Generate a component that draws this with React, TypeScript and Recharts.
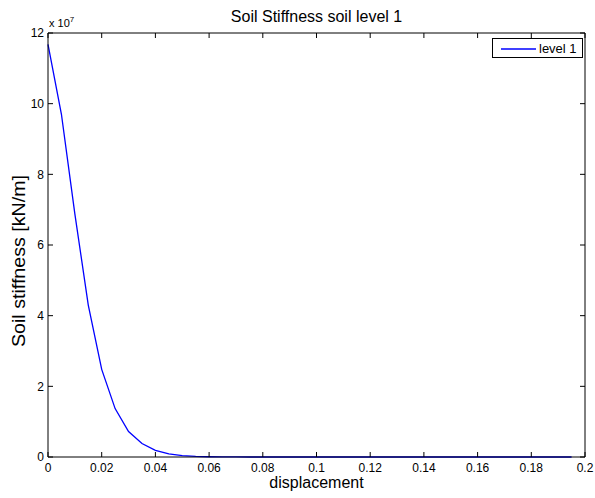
import React from 'react';
import { LineChart, Line, XAxis, YAxis, Label } from 'recharts';

const displacement = [
  0, 0.005, 0.01, 0.015, 0.02, 0.025, 0.03, 0.035, 0.04, 0.045,
  0.05, 0.055, 0.06, 0.065, 0.07, 0.075, 0.08, 0.085, 0.09, 0.095,
  0.1, 0.105, 0.11, 0.115, 0.12, 0.125, 0.13, 0.135, 0.14, 0.145,
  0.15, 0.155, 0.16, 0.165, 0.17, 0.175, 0.18, 0.185, 0.19, 0.195,
];
const stiffness = [
  116800000, 97000000, 68800000, 43000000, 24800000, 13700000, 7200000, 3800000, 1900000, 900000,
  400000, 170000, 70000, 30000, 12000, 5000, 2000, 800, 300, 120,
  50, 20, 8, 3, 1, 0.5, 0.2, 0.1, 0.05, 0.02,
  0.01, 0.005, 0.002, 0.001, 0.0005, 0.0002, 0.0001, 0.00005, 0.00002, 0.00001,
];
const xTicks = [0, 0.02, 0.04, 0.06, 0.08, 0.1, 0.12, 0.14, 0.16, 0.18, 0.2];
const yTicks = [0, 20000000, 40000000, 60000000, 80000000, 100000000, 120000000];
const seriesName = 'level 1';
const titleText = 'Soil Stiffness soil level 1';
const xLabelText = 'displacement';
const yLabelText = 'Soil stiffness [kN/m]';
const exponentBase = 'x 10';
const exponentPower = '7';

const data = displacement.map((d, i) => ({ x: d, y: stiffness[i] }));

const FONT = '"Liberation Sans", Arial, Helvetica, sans-serif';
const tickStyle = { fontSize: 12, fill: '#000', fontFamily: FONT };

export default function App() {
  return (
    <div style={{ position: 'absolute', left: 0, top: 0, width: 595, height: 498, background: '#fff' }}>
      <LineChart width={595} height={498} data={data} margin={{ top: 32, right: 0, bottom: 0, left: 0 }}>
        <XAxis
          xAxisId="bottom"
          dataKey="x"
          type="number"
          domain={[0, 0.2]}
          ticks={xTicks}
          height={41}
          tickSize={-5}
          tickMargin={11}
          tick={tickStyle}
          axisLine={{ stroke: '#000', strokeWidth: 1 }}
          tickLine={{ stroke: '#000' }}
          interval={0}
        >
          <Label
            content={({ viewBox }: any) => (
              <text
                x={viewBox.x + viewBox.width / 2}
                y={viewBox.y + 31}
                textAnchor="middle"
                fontSize={16}
                fontFamily={FONT}
                fill="#000"
              >
                {xLabelText}
              </text>
            )}
          />
        </XAxis>
        <XAxis
          xAxisId="top"
          orientation="top"
          type="number"
          dataKey="x"
          domain={[0, 0.2]}
          ticks={xTicks}
          height={1}
          tickSize={-5}
          tickFormatter={() => ''}
          axisLine={{ stroke: '#000', strokeWidth: 1 }}
          tickLine={{ stroke: '#000' }}
          interval={0}
        >
          <Label
            content={({ viewBox }: any) => (
              <g>
                <text
                  x={viewBox.x + viewBox.width / 2}
                  y={21.5}
                  textAnchor="middle"
                  fontSize={16}
                  fontFamily={FONT}
                  fill="#000"
                >
                  {titleText}
                </text>
                <text x={viewBox.x + 1} y={26.5} fontSize={11} fontFamily={FONT} fill="#000">
                  {exponentBase}
                  <tspan dy={-5} fontSize={8}>{exponentPower}</tspan>
                </text>
              </g>
            )}
          />
        </XAxis>
        <YAxis
          yAxisId="left"
          type="number"
          domain={[0, 120000000]}
          ticks={yTicks}
          width={48}
          tickSize={-5}
          tickMargin={9}
          tick={tickStyle}
          tickFormatter={(v: number) => String(v / 10000000)}
          axisLine={{ stroke: '#000', strokeWidth: 1 }}
          tickLine={{ stroke: '#000' }}
          interval={0}
        >
          <Label
            content={() => (
              <text
                x={25}
                y={261}
                transform="rotate(-90, 25, 261)"
                textAnchor="middle"
                fontSize={18}
                textLength={172}
                lengthAdjust="spacingAndGlyphs"
                fontFamily={FONT}
                fill="#000"
              >
                {yLabelText}
              </text>
            )}
          />
        </YAxis>
        <YAxis
          yAxisId="right"
          orientation="right"
          type="number"
          domain={[0, 120000000]}
          ticks={yTicks}
          width={10}
          tickSize={-5}
          tickFormatter={() => ''}
          axisLine={{ stroke: '#000', strokeWidth: 1 }}
          tickLine={{ stroke: '#000' }}
          interval={0}
        />
        <Line
          xAxisId="top"
          yAxisId="right"
          type="linear"
          dataKey="y"
          stroke="none"
          dot={false}
          activeDot={false}
          legendType="none"
          isAnimationActive={false}
        />
        <Line
          xAxisId="bottom"
          yAxisId="left"
          type="linear"
          dataKey="y"
          name={seriesName}
          stroke="#0000ff"
          strokeWidth={1.3}
          dot={false}
          isAnimationActive={false}
        />
      </LineChart>
      <div
        style={{
          position: 'absolute',
          left: 492,
          top: 38,
          width: 91,
          height: 20,
          border: '1px solid #000',
          background: '#fff',
          boxSizing: 'border-box',
          display: 'flex',
          alignItems: 'center',
          fontFamily: FONT,
          fontSize: 13,
          color: '#000',
        }}
      >
        <svg width={46} height={18} style={{ display: 'block' }}>
          <line x1={8} y1={10} x2={43} y2={10} stroke="#0000ff" strokeWidth={1.3} />
        </svg>
        <span>{seriesName}</span>
      </div>
    </div>
  );
}
